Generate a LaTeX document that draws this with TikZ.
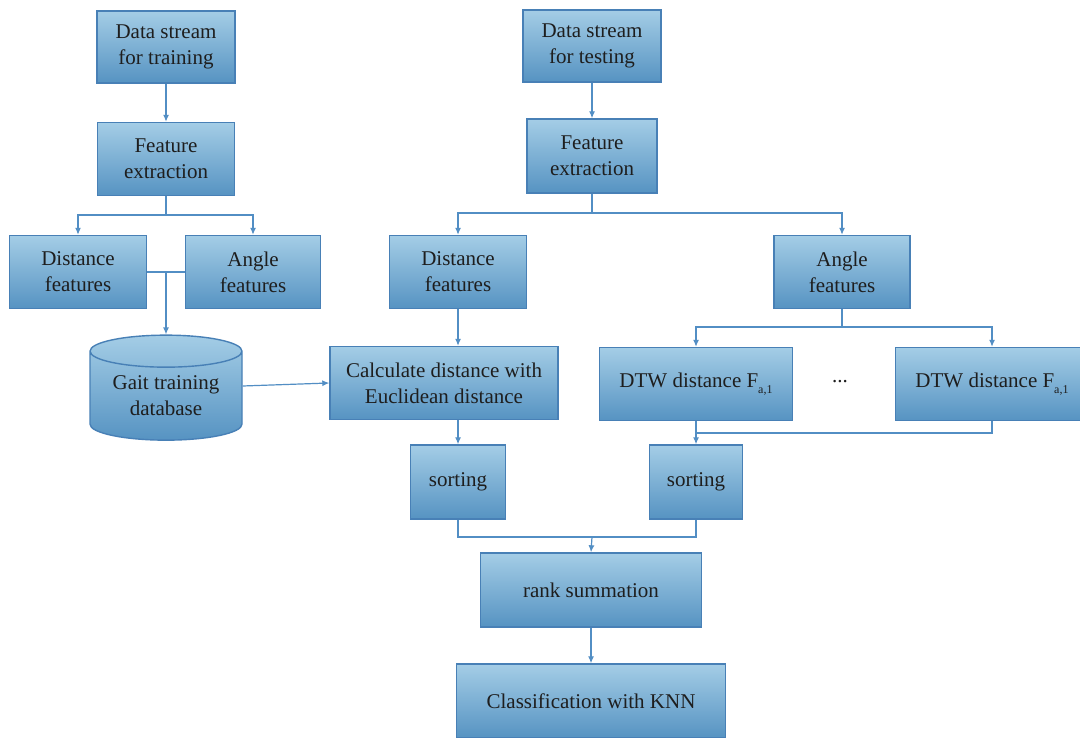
\documentclass[tikz,border=0pt]{standalone}
\usepackage{fontspec}
\setmainfont{Liberation Serif}
\usetikzlibrary{arrows.meta,shapes.geometric}
\definecolor{boxtop}{RGB}{164,205,230}
\definecolor{boxbot}{RGB}{86,147,194}
\definecolor{boxline}{RGB}{72,128,182}
\definecolor{conncol}{RGB}{82,142,196}
\definecolor{txt}{RGB}{30,30,30}
\tikzset{
  box/.style={draw=boxline, line width=1.4pt, top color=boxtop, bottom color=boxbot,
    inner sep=0pt, align=center, text=txt, font=\fontsize{21}{26}\selectfont},
  conn/.style={draw=conncol, line width=1.2pt},
  arr/.style={conn, -{Latex[length=7pt,width=6pt]}},
}
\newcommand{\Fsub}{F\raisebox{-0.55ex}{\fontsize{12}{14}\selectfont a,1}}
\begin{document}
\begin{tikzpicture}[x=1pt,y=-1pt]
\clip (0,0) rectangle (1080,738);
\fill[white] (0,0) rectangle (1080,738);
% left column
\node[box, minimum width=138, minimum height=72] (ds1) at (166,47) {Data stream\\for training};
\node[box, minimum width=137, minimum height=73] (fe1) at (166,159) {Feature\\extraction};
\node[box, minimum width=137, minimum height=73] (df1) at (78,272) {Distance\\features};
\node[box, minimum width=135, minimum height=73] (af1) at (253,272) {Angle\\features};
\node[box, cylinder, shape border rotate=90, aspect=0.3, minimum width=152, minimum height=105] (db) at (166,396) {Gait training\\database};
% right column
\node[box, minimum width=138, minimum height=72] (ds2) at (592,46) {Data stream\\for testing};
\node[box, minimum width=130, minimum height=74] (fe2) at (592,156) {Feature\\extraction};
\node[box, minimum width=137, minimum height=73] (df2) at (458,272) {Distance\\features};
\node[box, minimum width=136, minimum height=73] (af2) at (842,272) {Angle\\features};
\node[box, minimum width=228, minimum height=73] (calc) at (444,383) {Calculate distance with\\Euclidean distance};
\node[box, minimum width=193, minimum height=73] (dtw1) at (696,384) {DTW distance \Fsub};
\node[text=txt, font=\fontsize{21}{26}\selectfont] (dots) at (840,382) {...};
\node[box, minimum width=193, minimum height=73] (dtw2) at (992,384) {DTW distance \Fsub};
\node[box, minimum width=95, minimum height=74] (sort1) at (458,482) {sorting};
\node[box, minimum width=93, minimum height=74] (sort2) at (696,482) {sorting};
\node[box, minimum width=221, minimum height=74] (rank) at (591,590) {rank summation};
\node[box, minimum width=269, minimum height=74] (knn) at (591,701) {Classification with KNN};
% junction coordinates
\coordinate (j1) at (166,215);
\coordinate (j2) at (166,272);
\coordinate (j3) at (592,213);
\coordinate (j4) at (842,327);
\coordinate (j5) at (696,433);
\coordinate (j6) at (592,537);
% connectors left
\draw[arr] (ds1) -- (fe1);
\draw[conn] (fe1.south) -- (j1);
\draw[arr] (j1) -| (df1.north);
\draw[arr] (j1) -| (af1.north);
\draw[conn] (df1.east |- j2) -- (af1.west |- j2);
\draw[arr] (j2) -- (db.north);
\draw[arr] ([yshift=10pt]db.east) -- (calc.west);
% connectors right
\draw[arr] (ds2) -- (fe2);
\draw[conn] (fe2.south) -- (j3);
\draw[arr] (j3) -| (df2.north);
\draw[arr] (j3) -| (af2.north);
\draw[arr] (df2.south) -- (df2.south |- calc.north);
\draw[conn] (af2.south) -- (j4);
\draw[arr] (j4) -| (dtw1.north);
\draw[arr] (j4) -| (dtw2.north);
\draw[arr] (dtw1.south) -- (sort2.north);
\draw[conn] (dtw2.south) |- (j5);
\draw[arr] (sort1.north |- calc.south) -- (sort1.north);
\draw[conn] (sort1.south) |- (j6);
\draw[conn] (sort2.south) |- (j6);
\draw[arr] (j6) -- (rank.north);
\draw[arr] (rank) -- (knn);
\end{tikzpicture}
\end{document}
